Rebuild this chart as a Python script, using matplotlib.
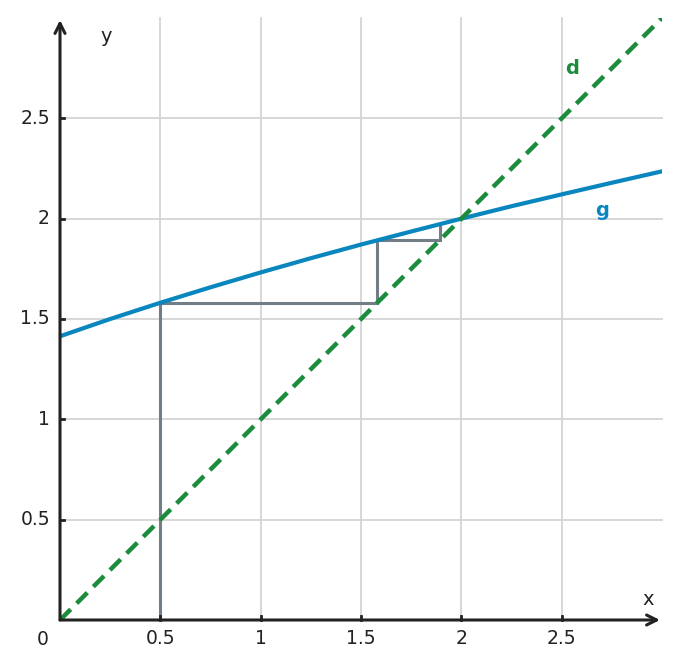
import matplotlib
matplotlib.use("Agg")
import matplotlib.pyplot as plt

# data
g_x = [0, 0.25, 0.5, 0.75, 1, 1.25, 1.5, 1.75, 2, 2.25, 2.5, 2.75, 3]
g_y = [1.414, 1.5, 1.581, 1.658, 1.732, 1.803, 1.871, 1.936, 2.0, 2.062, 2.121, 2.179, 2.236]
d_x = [0, 3]
d_y = [0, 3]
web_x = [0.5, 0.5, 1.581, 1.581, 1.892, 1.892]
web_y = [0, 1.581, 1.581, 1.892, 1.892, 1.973]
ticks = [0.5, 1, 1.5, 2, 2.5]
tick_labels = ["0.5", "1", "1.5", "2", "2.5"]

BLUE = "#0a86bf"
GREEN = "#1a8c3c"
GRAY = "#737d85"
AX = "#222222"

fig = plt.figure(figsize=(6.8, 6.68), dpi=100)
ax = fig.add_axes([60/680, 48/668, 602/680, 602/668])
ax.set_xlim(0, 3)
ax.set_ylim(0, 3)
for s in ax.spines.values():
    s.set_visible(False)
ax.set_xticks([])
ax.set_yticks([])

# grid
for t in ticks:
    ax.plot([t, t], [0, 3], color="#d4d4d4", lw=1.3, zorder=1, clip_on=False)
    ax.plot([0, 3], [t, t], color="#d4d4d4", lw=1.3, zorder=1, clip_on=False)

# cobweb
ax.plot(web_x, web_y, color=GRAY, lw=2.2, zorder=2, solid_joinstyle="miter")

# curves
ax.plot(g_x, g_y, color=BLUE, lw=3, zorder=3)
ax.plot(d_x, d_y, color=GREEN, lw=3.2, dashes=(3.4, 1.9), zorder=4)

# axes with arrows
ax.annotate("", xy=(2.99, 0), xytext=(0, 0),
            arrowprops=dict(arrowstyle="->", color=AX, lw=2.2, mutation_scale=18,
                            shrinkA=0, shrinkB=0), annotation_clip=False, zorder=5)
ax.annotate("", xy=(0, 2.99), xytext=(0, 0),
            arrowprops=dict(arrowstyle="->", color=AX, lw=2.2, mutation_scale=18,
                            shrinkA=0, shrinkB=0), annotation_clip=False, zorder=5)

# tick marks and labels
for t, lab in zip(ticks, tick_labels):
    ax.plot([t, t], [0, 0.02], color=AX, lw=2, zorder=5, clip_on=False)
    ax.plot([0, 0.02], [t, t], color=AX, lw=2, zorder=5, clip_on=False)
    ax.text(t, -0.09, lab, ha="center", va="center", fontsize=13.5, color=AX)
    ax.text(-0.05, t, lab, ha="right", va="center", fontsize=13.5, color=AX)
ax.text(-0.085, -0.095, "0", ha="center", va="center", fontsize=13.5, color=AX)

ax.text(2.93, 0.1, "x", ha="center", va="center", fontsize=14, color=AX)
ax.text(0.23, 2.91, "y", ha="center", va="center", fontsize=14, color=AX)

ax.text(2.55, 2.75, "d", ha="center", va="center", fontsize=14, color=GREEN, fontweight="bold")
ax.text(2.7, 2.04, "g", ha="center", va="center", fontsize=14, color=BLUE, fontweight="bold")

fig.savefig("out.png", dpi=100)
